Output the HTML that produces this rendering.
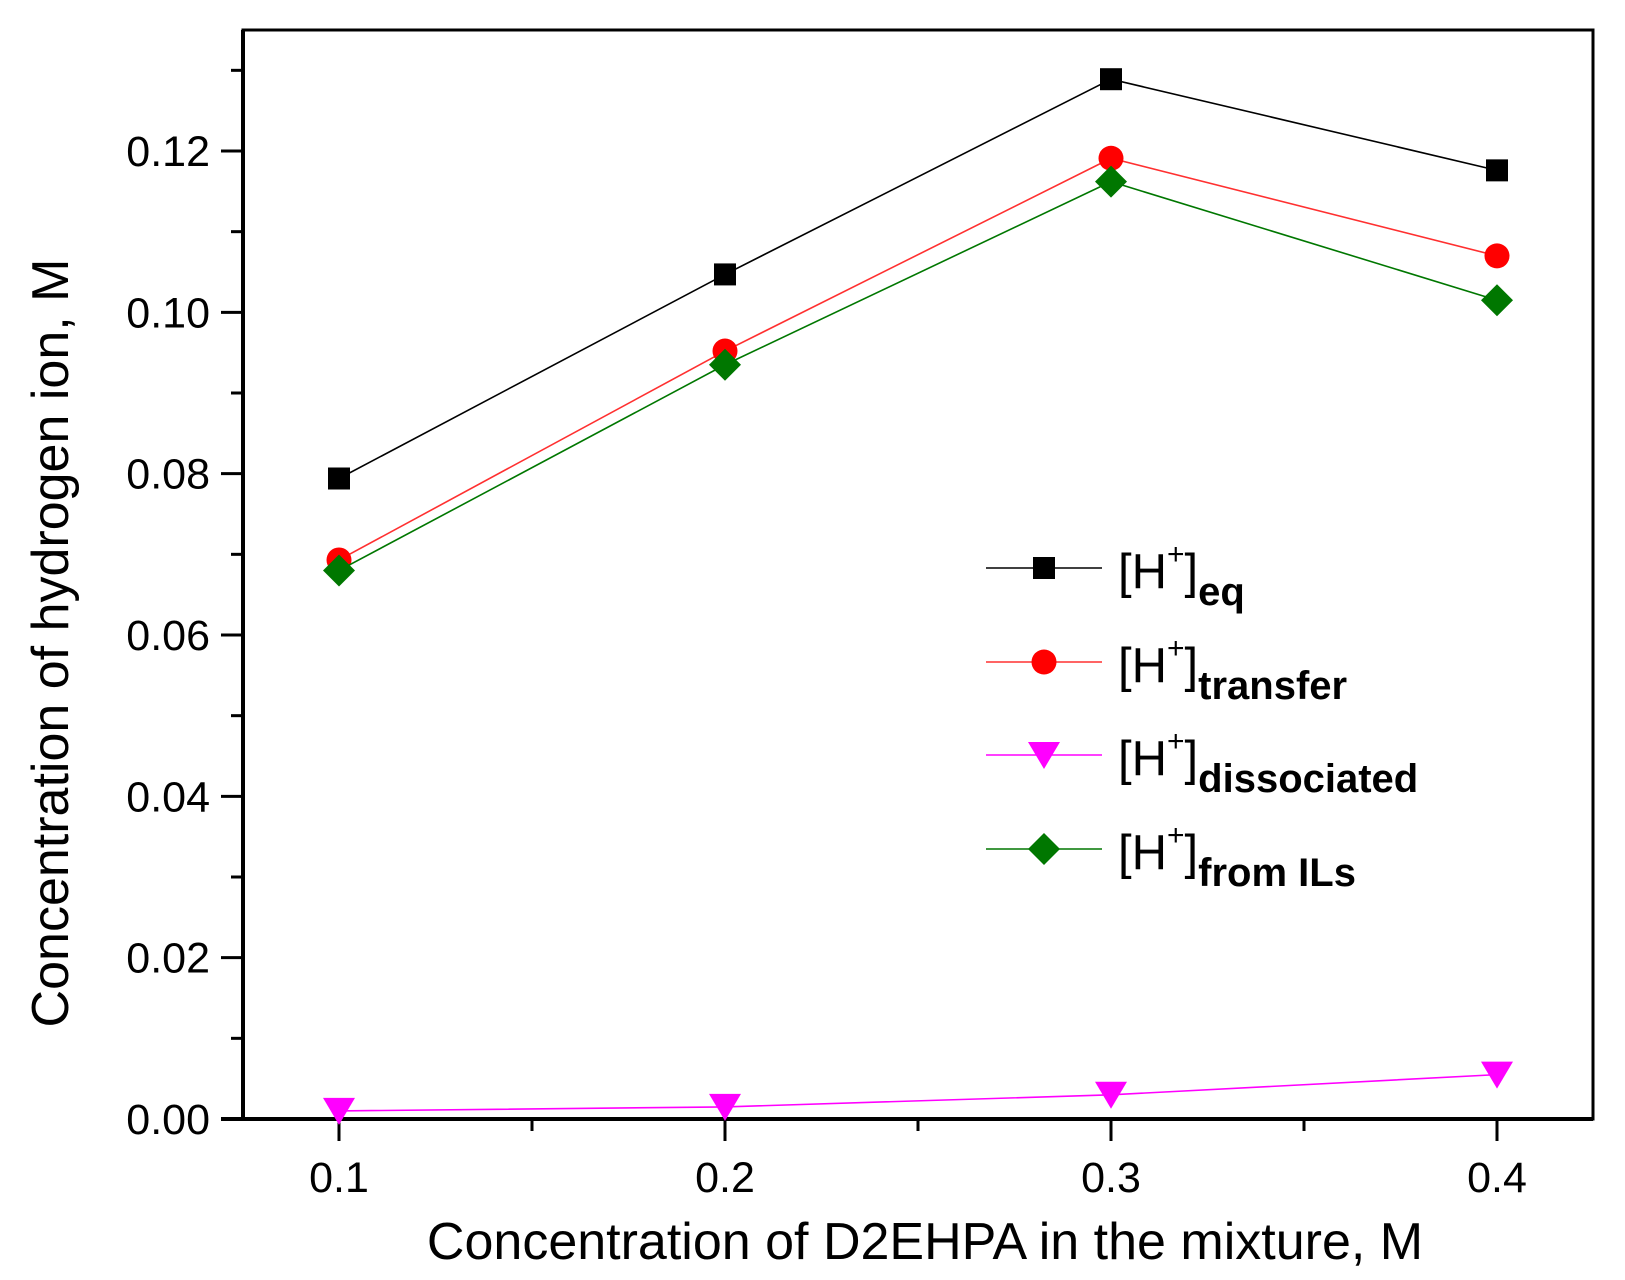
<!DOCTYPE html>
<html><head><meta charset="utf-8"><style>
html,body{margin:0;padding:0;background:#fff;}
svg{display:block;font-family:"Liberation Sans",Arial,sans-serif;}
</style></head><body>
<svg id="chart" width="1625" height="1280" viewBox="0 0 1625 1280" xmlns="http://www.w3.org/2000/svg">
<g id="axes"></g>
<g id="series"></g>
<g id="legend"></g>
<text x="925" y="1259" font-size="52" text-anchor="middle">Concentration of D2EHPA in the mixture, M</text>
<text transform="translate(68,643) rotate(-90)" font-size="52" text-anchor="middle">Concentration of hydrogen ion, M</text>
</svg>
<script>
const categories = [0.1, 0.2, 0.3, 0.4];
const eqValues = [0.0794, 0.1047, 0.1289, 0.1176];
const transferValues = [0.0693, 0.0952, 0.1191, 0.1070];
const dissociatedValues = [0.0010, 0.0015, 0.0030, 0.0055];
const fromILsValues = [0.0680, 0.0935, 0.1162, 0.1015];
const yTickLabels = ["0.00","0.02","0.04","0.06","0.08","0.10","0.12"];
const xTickLabels = ["0.1","0.2","0.3","0.4"];

const NS = "http://www.w3.org/2000/svg";
const L = 243, R = 1593, T = 30, B = 1119;
const xs = v => 339 + (v - 0.1) / 0.3 * (1497 - 339);
const ys = v => 1119 - v / 0.12 * (1119 - 151);
function mk(tag, attrs, parent) {
  const e = document.createElementNS(NS, tag);
  for (const k in attrs) e.setAttribute(k, attrs[k]);
  parent.appendChild(e);
  return e;
}
const axes = document.getElementById('axes');
let el = mk('rect', {x: L, y: T, width: R - L, height: B - T, fill: 'none', stroke: '#000', 'stroke-width': 3}, axes);


el = mk('line', {x1: 221, y1: B, x2: R, y2: B, stroke: '#000', 'stroke-width': 4}, axes);


el = mk('line', {x1: L, y1: T, x2: L, y2: B, stroke: '#000', 'stroke-width': 4}, axes);


yTickLabels.forEach((lab, i) => {
  const v = parseFloat(lab), y = ys(v);
  let t = mk('line', {x1: L - 22, y1: y, x2: L, y2: y, stroke: '#000', 'stroke-width': 3}, axes);
  
  
  const tx = mk('text', {x: 210, y: y + 15, 'font-size': 43, 'text-anchor': 'end'}, axes);
  tx.textContent = lab;
  
  
});
for (let v = 0.01; v < 0.136; v += 0.02) {
  const y = ys(v);
  let t = mk('line', {x1: L - 12, y1: y, x2: L, y2: y, stroke: '#000', 'stroke-width': 3}, axes);
  
  
}
xTickLabels.forEach(lab => {
  const x = xs(parseFloat(lab));
  let t = mk('line', {x1: x, y1: B, x2: x, y2: B + 22, stroke: '#000', 'stroke-width': 3}, axes);
  
  
  const tx = mk('text', {x: x, y: B + 73, 'font-size': 43, 'text-anchor': 'middle'}, axes);
  tx.textContent = lab;
  
  
});
[0.15, 0.25, 0.35].forEach(v => {
  const x = xs(v);
  let t = mk('line', {x1: x, y1: B, x2: x, y2: B + 12, stroke: '#000', 'stroke-width': 3}, axes);
  
  
});

function marker(type, x, y, color, parent) {
  if (type === 'square') return mk('rect', {x: x - 11, y: y - 11, width: 22, height: 22, fill: color}, parent);
  if (type === 'circle') return mk('circle', {cx: x, cy: y, r: 12.5, fill: color}, parent);
  if (type === 'tri') return mk('polygon', {points: `${x-16},${y-13} ${x+16},${y-13} ${x},${y+14}`, fill: color}, parent);
  return mk('polygon', {points: `${x},${y-16} ${x+16},${y} ${x},${y+16} ${x-16},${y}`, fill: color}, parent);
}
const seriesList = [
  {name: 'eq', vals: eqValues, color: '#000', line: '#000', m: 'square'},
  {name: 'transfer', vals: transferValues, color: '#ff0000', line: '#ff3030', m: 'circle'},
  {name: 'dissociated', vals: dissociatedValues, color: '#ff00ff', line: '#ff00ff', m: 'tri'},
  {name: 'from-ils', vals: fromILsValues, color: '#007700', line: '#007700', m: 'diamond'}
];
const sg = document.getElementById('series');
seriesList.forEach(s => {
  const g = mk('g', {}, sg);
  
  
  const pl = mk('polyline', {points: categories.map((c, i) => xs(c) + ',' + ys(s.vals[i])).join(' '), fill: 'none', stroke: s.line, 'stroke-width': 1.6}, g);
  
  
  categories.forEach((c, i) => {
    const m = marker(s.m, xs(c), ys(s.vals[i]), s.color, g);
    
    
  });
});
const lg = document.getElementById('legend');
const subs = ['eq', 'transfer', 'dissociated', 'from ILs'];
const rowsY = [568, 662, 755, 849];
seriesList.forEach((s, i) => {
  const g = mk('g', {}, lg);
  
  
  const y = rowsY[i];
  mk('line', {x1: 986, y1: y, x2: 1102, y2: y, stroke: s.line, 'stroke-width': 1.6}, g);
  marker(s.m, 1044, y, s.color, g);
  const t = mk('text', {x: 1118, y: y + 20, 'font-size': 49}, g);
  t.innerHTML = '[H<tspan dy="-24" font-size="30">+</tspan><tspan dy="24">]</tspan><tspan dy="17" font-size="40" font-weight="bold">' + subs[i] + '</tspan>';
});
</script>
</body></html>
